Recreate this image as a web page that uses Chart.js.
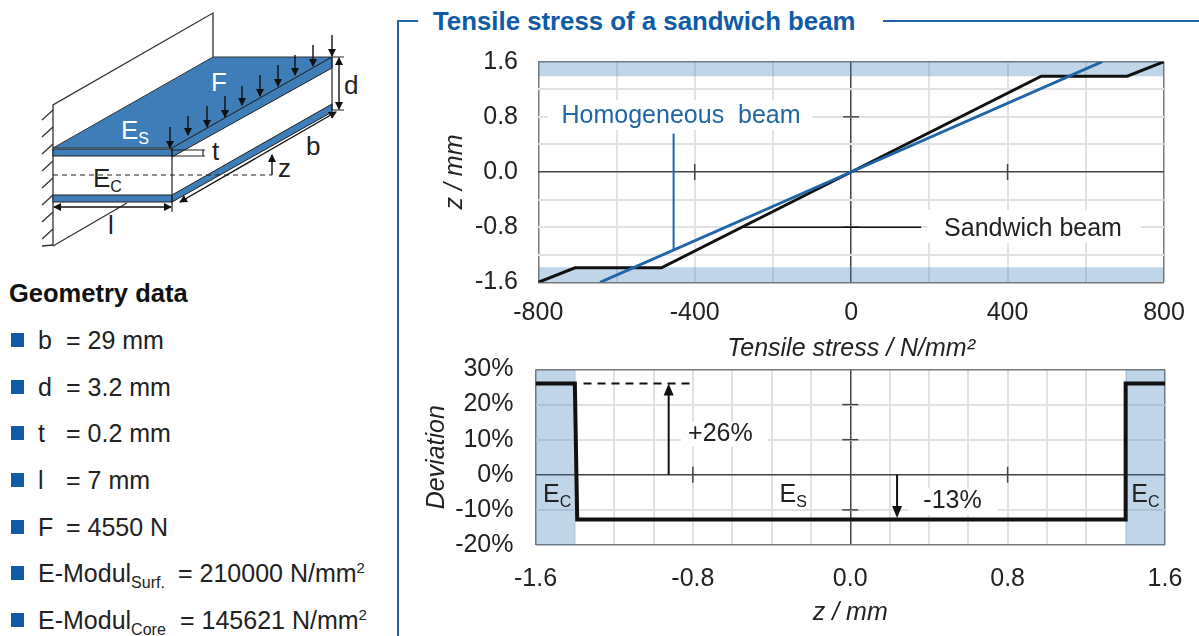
<!DOCTYPE html>
<html lang="en">
<head>
<meta charset="UTF-8">
<title>Tensile stress of a sandwich beam</title>
<script src="https://cdn.jsdelivr.net/npm/chart.js"></script>
<style>
    html, body { margin: 0; padding: 0; background: #fff; }
    body { width: 1199px; height: 636px; position: relative; overflow: hidden; font-family: "Liberation Sans", Arial, sans-serif; color: #222; }
    canvas { position: absolute; }
    #stressChart { left: 430px; top: 40px; }
    #deviationChart { left: 400px; top: 350px; }
    .frame { position: absolute; background: #1f65a8; }
    .title { position: absolute; left: 433px; top: 7px; font-size: 25.8px; font-weight: bold; color: #0f5ba6; white-space: nowrap; }
    .geo-head { position: absolute; left: 9px; top: 279px; font-size: 25.5px; font-weight: bold; color: #111; }
    .row { position: absolute; left: 0; height: 28px; font-size: 25px; line-height: 28px; white-space: nowrap; }
    .row i { position: absolute; left: 11px; top: 7px; width: 13px; height: 14px; background: #0f5ba6; }
    .row span { position: absolute; top: 0; }
    .row sub { font-size: 16px; line-height: 0; }
    .row sup { font-size: 15px; line-height: 0; }
    svg { position: absolute; left: 0; top: 0; }
    svg text { font-family: "Liberation Sans", Arial, sans-serif; font-size: 26px; fill: #222; }
</style>
</head>
<body>
    <!-- Beam sketch -->
    <svg width="400" height="260" viewBox="0 0 400 260">
        <defs>
            <marker id="tip" markerWidth="8" markerHeight="8" refX="7" refY="4" orient="auto-start-reverse" markerUnits="userSpaceOnUse">
                <path d="M0,0 L8,4 L0,8 Z" fill="#111"/>
            </marker>
        </defs>
        <g stroke="#333" stroke-width="1.3" fill="none">
            <path d="M53,246 V105 L213,13 V57"/>
            <path d="M53,246 L127,203"/>
            <path d="M53,110 L42,120 M53,127 L42,137 M53,144 L42,154 M53,161 L42,171 M53,178 L42,188 M53,195 L42,205 M53,212 L42,222 M53,229 L42,239 M53,245 L42,246"/>
        </g>
        <path d="M53,148 L213,57 H332 L172,148 Z" fill="#3f7db8" stroke="#333" stroke-width="1"/>
        <path d="M172,148 L332,57 V68 L172,157 Z" fill="#3f7db8" stroke="#222" stroke-width="1"/>
        <rect x="53" y="149" width="119" height="7" fill="#3f7db8" stroke="#222" stroke-width="1"/>
        <rect x="53" y="195" width="119" height="7" fill="#3f7db8" stroke="#222" stroke-width="1"/>
        <path d="M172,195 L332,104 V112 L172,202 Z" fill="#3f7db8" stroke="#222" stroke-width="1"/>
        <g stroke="#222" stroke-width="1.2" fill="none">
            <path d="M172,148 V212"/>
            <path d="M332,57 V110"/>
            <path d="M53,175 H272" stroke-dasharray="5 4"/>
            <path d="M172,150 H205 M172,156 H205 M203,150 V156"/>
            <path d="M332,57 H344 M332,110 H344"/>
        </g>
        <g stroke="#111" stroke-width="1.4" fill="none" marker-end="url(#tip)">
            <path d="M170,127 V148"/><path d="M188,116 V135"/><path d="M207,106 V127"/>
            <path d="M225,96 V117"/><path d="M242,86 V105"/><path d="M260,75 V96"/>
            <path d="M278,65 V86"/><path d="M295,55 V75"/><path d="M313,45 V66"/>
            <path d="M332,35 V56"/>
            <path d="M272,175 V155"/>
        </g>
        <path d="M339,58 V109" stroke="#111" stroke-width="1.4" marker-start="url(#tip)" marker-end="url(#tip)"/>
        <path d="M54,207 H171" stroke="#111" stroke-width="1.4" marker-start="url(#tip)" marker-end="url(#tip)"/>
        <path d="M180,202 L336,112" stroke="#111" stroke-width="1.4" marker-start="url(#tip)" marker-end="url(#tip)"/>
        <text x="211" y="91" style="fill:#fff">F</text>
        <text x="121" y="139" style="fill:#fff">E<tspan font-size="16" dy="5">S</tspan></text>
        <text x="93" y="187">E<tspan font-size="16" dy="5">C</tspan></text>
        <text x="212" y="160">t</text>
        <text x="344" y="94">d</text>
        <text x="306" y="155">b</text>
        <text x="278" y="177">z</text>
        <text x="108" y="234">l</text>
    </svg>

    <!-- Geometry list -->
    <div class="geo-head">Geometry data</div>
    <div class="row" style="top:326px"><i></i><span style="left:38px">b</span><span style="left:66px">= 29 mm</span></div>
    <div class="row" style="top:373px"><i></i><span style="left:38px">d</span><span style="left:66px">= 3.2 mm</span></div>
    <div class="row" style="top:419px"><i></i><span style="left:38px">t</span><span style="left:66px">= 0.2 mm</span></div>
    <div class="row" style="top:466px"><i></i><span style="left:38px">l</span><span style="left:66px">= 7 mm</span></div>
    <div class="row" style="top:513px"><i></i><span style="left:38px">F</span><span style="left:66px">= 4550 N</span></div>
    <div class="row" style="top:559px"><i></i><span style="left:38px">E-Modul<sub>Surf.</sub></span><span style="left:178px">= 210000 N/mm<sup>2</sup></span></div>
    <div class="row" style="top:606px"><i></i><span style="left:38px">E-Modul<sub>Core</sub></span><span style="left:180px">= 145621 N/mm<sup>2</sup></span></div>

    <!-- Title and frame -->
    <div class="frame" style="left:397px;top:21px;width:2px;height:615px"></div>
    <div class="frame" style="left:397px;top:20px;width:21px;height:2px"></div>
    <div class="frame" style="left:883px;top:20px;width:316px;height:2px"></div>
    <div class="title">Tensile stress of a sandwich beam</div>

    <canvas id="stressChart" width="769" height="324"></canvas>
    <canvas id="deviationChart" width="799" height="286"></canvas>

    <script>
        // Top chart
        const stressGrid = [-800, -600, -400, -200, 0, 200, 400, 600, 800];
        const stressLabels = [-800, -400, 0, 400, 800];
        const zGrid = [-1.6, -1.2, -0.8, -0.4, 0, 0.4, 0.8, 1.2, 1.6];
        const zLabels = [-1.6, -0.8, 0, 0.8, 1.6];
        const sandwichStress = [-800, -706, -485, 0, 486, 706, 800];
        const sandwichZ = [-1.6, -1.39, -1.39, 0, 1.39, 1.39, 1.6];
        const homogeneousStress = [-642, 0, 642];
        const homogeneousZ = [-1.6, 0, 1.6];

        // Bottom chart
        const devZGrid = [-1.6, -1.4, -1.2, -1, -0.8, -0.6, -0.4, -0.2, 0, 0.2, 0.4, 0.6, 0.8, 1, 1.2, 1.4, 1.6];
        const devZLabels = [-1.6, -0.8, 0, 0.8, 1.6];
        const deviationGrid = [-20, -10, 0, 10, 20, 30];
        const deviationZ = [-1.6, -1.4, -1.388, 1.4, 1.4, 1.6];
        const deviationValues = [26, 26, -12.7, -12.7, 26, 26];

        const points = (xs, ys) => xs.map((x, i) => ({ x: x, y: ys[i] }));

        const FONT = '"Liberation Sans", Arial, sans-serif';
        const BAND = 'rgba(63,125,184,0.32)';
        const BLUE = '#1f65a8';

        function line(xs, ys, color, width, order, extra) {
            return Object.assign({
                data: points(xs, ys), showLine: true, borderColor: color, borderWidth: width,
                pointRadius: 0, order: order, tension: 0, fill: false
            }, extra || {});
        }
        function band(xs, ys, fill) {
            return line(xs, ys, 'transparent', 0, 9, { fill: fill, backgroundColor: BAND });
        }

        function gridStyle(min, max) {
            return {
                color: c => {
                    const v = c.tick ? c.tick.value : 1;
                    if (v === min || v === max) return '#7a7a7a';
                    return v === 0 ? '#444' : '#e2e2e2';
                },
                lineWidth: c => {
                    const v = c.tick ? c.tick.value : 1;
                    return (v === min || v === max || v === 0) ? 1.5 : 2;
                },
                drawTicks: false
            };
        }

        function axis(min, max, grid, fmt, title, titlePad, size, tickPad) {
            const horizontal = size.height !== undefined;
            return {
                type: 'linear', min: min, max: max,
                grid: gridStyle(min, max),
                border: { display: false },
                afterBuildTicks: s => { s.ticks = grid.map(v => ({ value: v })); },
                afterFit: s => { if (horizontal) s.height = size.height; else s.width = size.width; },
                ticks: {
                    autoSkip: false, maxRotation: 0, padding: tickPad, color: '#222',
                    font: { family: FONT, size: 25 }, callback: fmt
                },
                title: {
                    display: true, text: title, color: '#222', padding: titlePad,
                    font: { family: FONT, size: 25, style: 'italic' }
                }
            };
        }

        // pins the plot area, then white boxes, labels, axis tick marks and arrow heads in data coordinates
        const marksPlugin = {
            id: 'marks',
            afterLayout(chart, args, o) {
                const { chartArea: area, scales: { x, y } } = chart;
                const none = { left: 0, right: 0, top: 0, bottom: 0 };
                area.left = x.left = o.area.left;
                area.right = x.right = o.area.right;
                area.top = y.top = o.area.top;
                area.bottom = y.bottom = o.area.bottom;
                area.width = x.width = o.area.right - o.area.left;
                area.height = y.height = o.area.bottom - o.area.top;
                x._margins = Object.assign({}, none);
                y._margins = Object.assign({}, none);
                x.configure();
                y.configure();
            },
            beforeDatasetsDraw(chart, args, o) {
                const { ctx, scales: { x, y } } = chart;
                ctx.save();
                ctx.fillStyle = '#fff';
                o.boxes.forEach(b => {
                    const l = x.getPixelForValue(b[0]), r = x.getPixelForValue(b[1]);
                    const t = y.getPixelForValue(b[2]), d = y.getPixelForValue(b[3]);
                    ctx.fillRect(l, t, r - l, d - t);
                });
                ctx.strokeStyle = '#444';
                ctx.lineWidth = 1.5;
                const x0 = x.getPixelForValue(0), y0 = y.getPixelForValue(0);
                o.xMarks.forEach(v => {
                    const p = x.getPixelForValue(v);
                    ctx.beginPath(); ctx.moveTo(p, y0 - 8); ctx.lineTo(p, y0 + 8); ctx.stroke();
                });
                o.yMarks.forEach(v => {
                    const p = y.getPixelForValue(v);
                    ctx.beginPath(); ctx.moveTo(x0 - 8, p); ctx.lineTo(x0 + 8, p); ctx.stroke();
                });
                ctx.restore();
            },
            afterDatasetsDraw(chart, args, o) {
                const { ctx, scales: { x, y } } = chart;
                ctx.save();
                ctx.textBaseline = 'middle';
                o.labels.forEach(l => {
                    const px = x.getPixelForValue(l.x), py = y.getPixelForValue(l.y);
                    ctx.fillStyle = l.color || '#222';
                    ctx.font = '25px ' + FONT;
                    const w = ctx.measureText(l.text).width;
                    ctx.font = '16px ' + FONT;
                    const sw = l.sub ? ctx.measureText(l.sub).width : 0;
                    const left = px - (w + sw) / 2;
                    ctx.font = '25px ' + FONT;
                    ctx.textAlign = 'left';
                    ctx.fillText(l.text, left, py);
                    if (l.sub) {
                        ctx.font = '16px ' + FONT;
                        ctx.fillText(l.sub, left + w, py + 7);
                    }
                });
                ctx.fillStyle = '#111';
                o.arrows.forEach(a => {
                    const px = x.getPixelForValue(a.x), py = y.getPixelForValue(a.y);
                    ctx.beginPath();
                    ctx.moveTo(px, py);
                    ctx.lineTo(px - 5, py + a.dir * 12);
                    ctx.lineTo(px + 5, py + a.dir * 12);
                    ctx.closePath();
                    ctx.fill();
                });
                ctx.restore();
            }
        };

        Chart.defaults.animation = false;

        new Chart(document.getElementById('stressChart'), {
            type: 'scatter',
            plugins: [marksPlugin],
            data: {
                datasets: [
                    line(homogeneousStress, homogeneousZ, BLUE, 3, 1),
                    line(sandwichStress, sandwichZ, '#111', 3, 2),
                    line([-454, -454], [0.56, -1.146], BLUE, 2, 3),
                    line([-278, 179], [-0.8, -0.8], '#111', 1.5, 3),
                    band([-800, 800], [1.39, 1.39], 'end'),
                    band([-800, 800], [-1.38, -1.38], 'start')
                ]
            },
            options: {
                responsive: false,
                layout: { padding: { top: 11, right: 35, left: 0, bottom: 0 } },
                scales: {
                    x: axis(-800, 800, stressGrid, v => stressLabels.includes(v) ? String(v) : '',
                        'Tensile stress / N/mm²', { top: 0, bottom: 0 }, { height: 82 }, 16),
                    y: axis(-1.6, 1.6, zGrid, v => zLabels.includes(v) ? v.toFixed(1) : '',
                        'z / mm', { top: 10, bottom: 0 }, { width: 108 }, 20)
                },
                plugins: {
                    legend: { display: false },
                    tooltip: { enabled: false },
                    marks: {
                        area: { left: 108.3, right: 734, top: 21.7, bottom: 242.3 },
                        boxes: [[-776, -100, 1.04, 0.61], [196, 741, -0.55, -1.03]],
                        xMarks: [-400, 400],
                        yMarks: [-0.8, 0.8],
                        labels: [
                            { text: 'Homogeneous  beam', x: -435, y: 0.81, color: BLUE },
                            { text: 'Sandwich beam', x: 465, y: -0.83 }
                        ],
                        arrows: []
                    }
                }
            }
        });

        new Chart(document.getElementById('deviationChart'), {
            type: 'scatter',
            plugins: [marksPlugin],
            data: {
                datasets: [
                    line(deviationZ, deviationValues, '#111', 4, 1),
                    line([-1.356, -0.808], [26, 26], '#111', 2, 2, { borderDash: [8, 6] }),
                    line([-0.923, -0.923], [0, 24], '#111', 2, 2),
                    line([0.238, 0.238], [0, -10], '#111', 2, 2),
                    band([-1.6, -1.4], [30, 30], 'start'),
                    band([1.4, 1.6], [30, 30], 'start')
                ]
            },
            options: {
                responsive: false,
                layout: { padding: { top: 4, right: 30, left: 0, bottom: 0 } },
                scales: {
                    x: axis(-1.6, 1.6, devZGrid, v => devZLabels.includes(v) ? v.toFixed(1) : '',
                        'z / mm', { top: 0, bottom: 8 }, { height: 91 }, 19),
                    y: axis(-20, 30, deviationGrid, v => v + '%',
                        'Deviation', { top: 22, bottom: 0 }, { width: 135.5 }, 22)
                },
                plugins: {
                    legend: { display: false },
                    tooltip: { enabled: false },
                    marks: {
                        area: { left: 135.5, right: 765, top: 19.5, bottom: 195 },
                        boxes: [[-0.86, -0.42, 15.1, 8], [0.295, 0.75, -3.8, -11.5]],
                        xMarks: [-0.8, 0.8],
                        yMarks: [-10, 10, 20],
                        labels: [
                            { text: '+26%', x: -0.66, y: 11.7 },
                            { text: '-13%', x: 0.52, y: -7.4 },
                            { text: 'E', sub: 'S', x: -0.29, y: -5.8 },
                            { text: 'E', sub: 'C', x: -1.49, y: -5.8 },
                            { text: 'E', sub: 'C', x: 1.5, y: -5.8 }
                        ],
                        arrows: [
                            { x: -0.923, y: 26, dir: 1 },
                            { x: 0.238, y: -12.3, dir: -1 }
                        ]
                    }
                }
            }
        });
    </script>
</body>
</html>
